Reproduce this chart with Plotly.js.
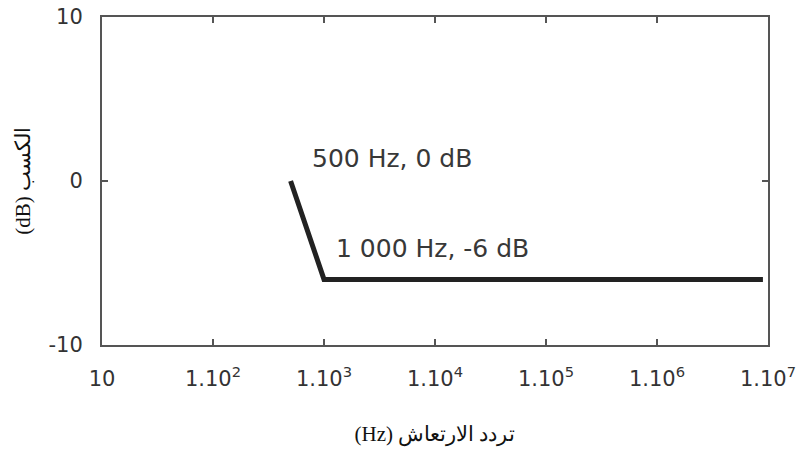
<!DOCTYPE html>
<html>
<head>
<meta charset="utf-8">
<script src="https://cdn.plot.ly/plotly-3.0.1.min.js"></script>
<style>
html,body{margin:0;padding:0;background:#fff;}
#chart{width:801px;height:458px;}
</style>
</head>
<body>
<div id="chart"></div>
<script>
// Data
var frequencyHz = [500, 1000, 9000000];
var gainDb = [0, -6, -6];

var xTickVals = [10, 100, 1000, 10000, 100000, 1000000, 10000000];
var xTickText = ['10', '1.10<sup>2</sup>', '1.10<sup>3</sup>', '1.10<sup>4</sup>', '1.10<sup>5</sup>', '1.10<sup>6</sup>', '1.10<sup>7</sup>'];
var yTickVals = [-10, 0, 10];
var yTickText = ['-10', '0', '10'];

var annotationLabels = ['500 Hz, 0 dB', '1 000 Hz, -6 dB'];
// right-to-left embedding so the Arabic titles read as in the reference
var xTitle = '\u202Bتردد الارتعاش (Hz)\u202C';
var yTitle = '\u202Bالكسب (dB)\u202C';

var axisColor = '#555555';
var tickFont = {family: 'DejaVu Sans', size: 21, color: '#333333'};
var noteFont = {family: 'DejaVu Sans', size: 25, color: '#383838'};

var trace = {
  x: frequencyHz,
  y: gainDb,
  type: 'scatter',
  mode: 'lines',
  line: {color: '#222222', width: 5},
  hoverinfo: 'skip'
};

var layout = {
  width: 801,
  height: 458,
  margin: {l: 102, r: 33, t: 17, b: 113},
  paper_bgcolor: '#ffffff',
  plot_bgcolor: '#ffffff',
  showlegend: false,
  xaxis: {
    type: 'log',
    range: [1, 7],
    tickmode: 'array',
    tickvals: xTickVals,
    ticktext: xTickText,
    ticks: 'inside',
    ticklen: 6,
    tickwidth: 2,
    tickcolor: axisColor,
    showline: true,
    linecolor: axisColor,
    linewidth: 2,
    mirror: 'ticks',
    showgrid: false,
    zeroline: false,
    tickfont: tickFont,
    ticklabelstandoff: 14,
    title: {text: xTitle, font: {family: 'Liberation Serif', size: 21, color: '#111111'}, standoff: 36}
  },
  yaxis: {
    range: [-10, 10],
    tickmode: 'array',
    tickvals: yTickVals,
    ticktext: yTickText,
    ticks: 'inside',
    ticklen: 6,
    tickwidth: 2,
    tickcolor: axisColor,
    showline: true,
    linecolor: axisColor,
    linewidth: 2,
    mirror: 'ticks',
    showgrid: false,
    zeroline: false,
    tickfont: tickFont,
    ticklabelstandoff: 13,
    title: {text: yTitle, font: {family: 'Liberation Serif', size: 21, color: '#111111'}, standoff: 12}
  },
  annotations: [
    {
      x: 2.87, y: 1.4, xref: 'x', yref: 'y',
      text: annotationLabels[0], showarrow: false,
      xanchor: 'left', yanchor: 'middle',
      font: noteFont
    },
    {
      x: 3.09, y: -4.1, xref: 'x', yref: 'y',
      text: annotationLabels[1], showarrow: false,
      xanchor: 'left', yanchor: 'middle',
      font: noteFont
    }
  ]
};

Plotly.newPlot('chart', [trace], layout, {displayModeBar: false, staticPlot: true});
</script>
</body>
</html>
